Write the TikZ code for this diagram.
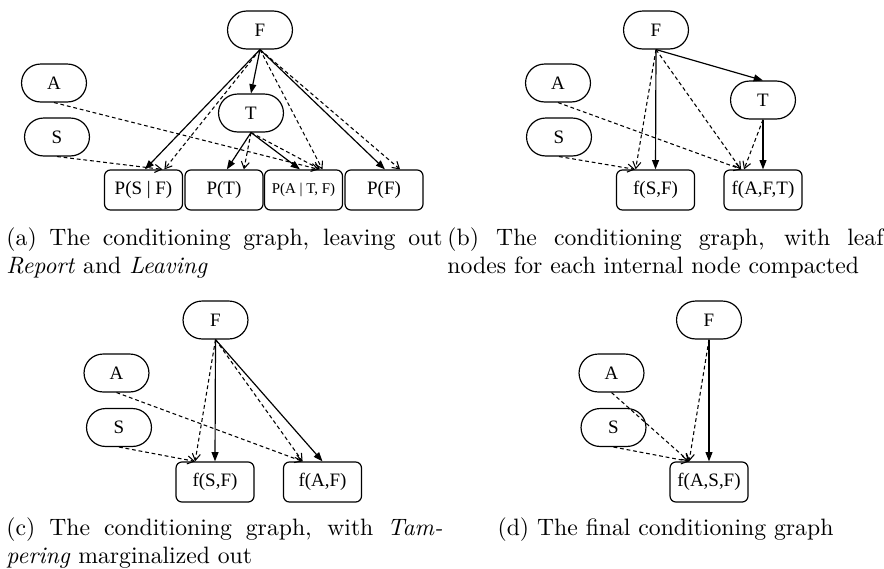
\documentclass[tikz,border=0pt]{standalone}
\usepackage{fontspec}
\newfontfamily\timesfont{Liberation Serif}
\usetikzlibrary{arrows.meta,positioning,shapes.misc}

\tikzset{
  var/.style={draw, rounded rectangle, line width=0.5pt, minimum width=27.4pt, minimum height=16pt,
    inner sep=0pt, font=\timesfont\fontsize{8}{9}\selectfont},
  factor/.style={draw, rounded corners=2.5pt, line width=0.5pt, minimum width=32.9pt, minimum height=16.9pt,
    inner sep=0pt, font=\timesfont\fontsize{8}{9}\selectfont},
  dep/.style={line width=0.5pt, -{Triangle[length=3.9pt,width=2.9pt]}},
  cond/.style={line width=0.45pt, dash pattern=on 1.6pt off 1.2pt, -{Straight Barb[length=2.8pt,width=3.4pt]}},
  caption/.style={inner sep=0pt, text width=184pt, align=justify, anchor=base west}
}

\begin{document}
\begin{tikzpicture}[x=0.422pt, y=-0.422pt]
  \useasboundingbox (0,0) rectangle (884,568);

  % (a) conditioning graph
  \node[var] (aF) at (260,30) {F};
  \node[var] (aA) at (54,83) {A};
  \node[var] (aS) at (57,137) {S};
  \node[var] (aT) at (251,113) {T};
  \node[factor] (aPS) at (143.5,190) {P(S | F)};
  \node[factor] (aPT) at (224,190) {P(T)};
  \node[factor, font=\timesfont\fontsize{6.3}{7}\selectfont] (aPA) at (303.5,190) {P(A | T, F)};
  \node[factor] (aPF) at (384,190) {P(F)};

  \draw[dep] (aF.south) -- ([xshift=0.6pt]aPS.north);
  \draw[dep] (aF.south) -- (aT.north);
  \draw[dep] (aF.south) -- ([xshift=0.4pt]aPF.north);
  \draw[dep] (aT.south) -- ([xshift=1.2pt]aPT.north);
  \draw[dep] (aT.south) -- ([xshift=-1.5pt]aPA.north);
  \draw[cond] (aF.south) -- ([xshift=8.8pt]aPS.north);
  \draw[cond] (aS.south) -- ([xshift=8pt]aPS.north);
  \draw[cond] (aF.south) -- ([xshift=8pt]aPA.north);
  \draw[cond] (aA.south) -- ([xshift=6.5pt]aPA.north);
  \draw[cond] (aT.south) -- ([xshift=7pt]aPA.north);
  \draw[cond] (aT.south) -- ([xshift=8.4pt]aPT.north);
  \draw[cond] (aF.south) -- ([xshift=6.8pt]aPF.north);

  % (b) leaf nodes compacted
  \node[var] (bF) at (656,30) {F};
  \node[var] (bA) at (558,83) {A};
  \node[var] (bS) at (559,137) {S};
  \node[var] (bT) at (763,100) {T};
  \node[factor] (bSF) at (655.5,190) {f(S,F)};
  \node[factor] (bAFT) at (763,190) {f(A,F,T)};

  \draw[dep] (bF.south) -- (bSF.north);
  \draw[dep] (bF.south) -- (bT.north);
  \draw[dep] (bT.south) -- (bAFT.north);
  \draw[cond] (bF.south) -- ([xshift=-8.4pt]bSF.north);
  \draw[cond] (bS.south) -- ([xshift=-8.6pt]bSF.north);
  \draw[cond] (bF.south) -- ([xshift=-9.3pt]bAFT.north);
  \draw[cond] (bA.south) -- ([xshift=-9pt]bAFT.north);
  \draw[cond] (bT.south) -- ([xshift=-8pt]bAFT.north);

  % (c) Tampering marginalized out
  \node[var] (cF) at (215.5,320) {F};
  \node[var] (cA) at (116.5,373) {A};
  \node[var] (cS) at (119,427.5) {S};
  \node[factor] (cSF) at (215,482) {f(S,F)};
  \node[factor] (cAF) at (322.5,482) {f(A,F)};

  \draw[dep] (cF.south) -- (cSF.north);
  \draw[dep] (cF.south) -- (cAF.north);
  \draw[cond] (cF.south) -- ([xshift=-8.4pt]cSF.north);
  \draw[cond] (cS.south) -- ([xshift=-8.4pt]cSF.north);
  \draw[cond] (cF.south) -- ([xshift=-8.4pt]cAF.north);
  \draw[cond] (cA.south) -- ([xshift=-8.4pt]cAF.north);

  % (d) final graph
  \node[var] (dF) at (709,320) {F};
  \node[var] (dA) at (611.5,373) {A};
  \node[var] (dS) at (613.5,427.5) {S};
  \node[factor] (dASF) at (709,482) {f(A,S,F)};

  \draw[dep] (dF.south) -- (dASF.north);
  \draw[cond] (dF.south) -- ([xshift=-8.4pt]dASF.north);
  \draw[cond] (dA.south) -- ([xshift=-8.4pt]dASF.north);
  \draw[cond] (dS.south) -- ([xshift=-8.4pt]dASF.north);

  % captions
  \node[caption] (capA) at (6,245) {(a) The conditioning graph, leaving out\linebreak \emph{Report} and \emph{Leaving}};
  \node[caption] (capB) at (447,245) {(b) The conditioning graph, with leaf\linebreak nodes for each internal node compacted};
  \node[caption] (capC) at (6,535) {(c) The conditioning graph, with \emph{Tam-}\linebreak \emph{pering} marginalized out};
  \node[caption, align=center] (capD) at (447,535) {(d) The final conditioning graph};
\end{tikzpicture}
\end{document}
